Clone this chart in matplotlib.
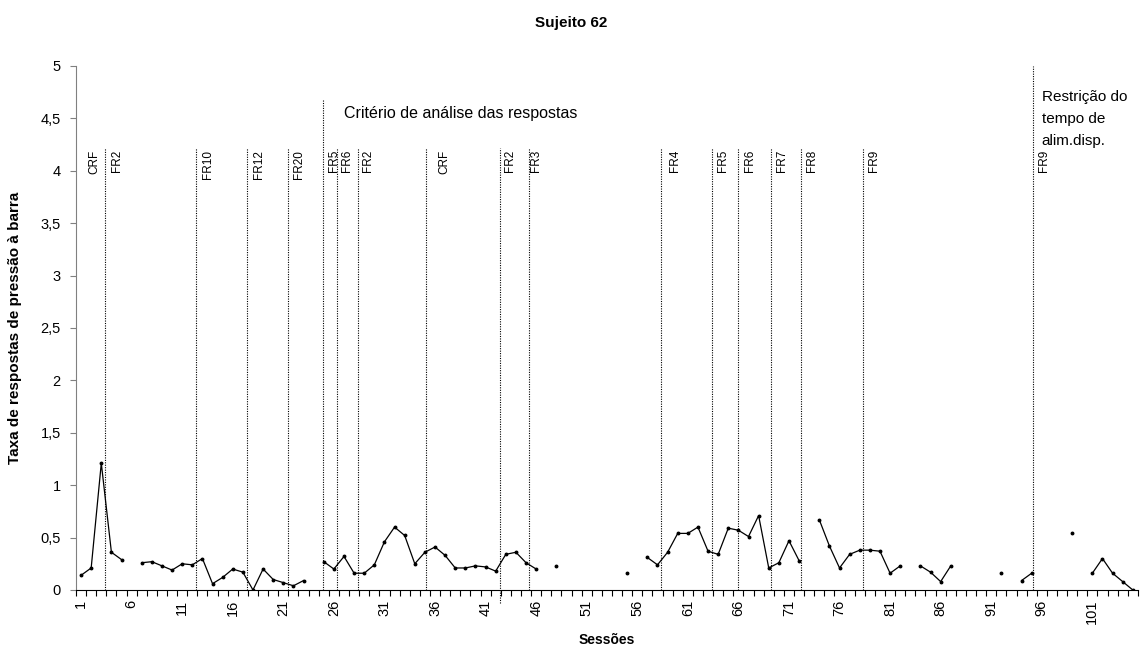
"""Sujeito 62 - taxa de respostas de pressão à barra por sessão."""

import numpy as np
import matplotlib
matplotlib.use("Agg")
import matplotlib.pyplot as plt

plt.rcParams["font.family"] = ["Liberation Sans", "DejaVu Sans"]

nan = np.nan

# response rate per session (sessions 1..105), gaps = no data
sessions = list(range(1, 106))
rates = [
    0.14, 0.21, 1.21, 0.36, 0.29, nan, 0.26, 0.27, 0.23, 0.19,   # 1-10
    0.25, 0.24, 0.30, 0.06, 0.12, 0.20, 0.17, 0.00, 0.20, 0.10,  # 11-20
    0.07, 0.04, 0.09, nan, 0.27, 0.20, 0.32, 0.16, 0.16, 0.24,   # 21-30
    0.46, 0.60, 0.52, 0.25, 0.36, 0.41, 0.33, 0.21, 0.21, 0.23,  # 31-40
    0.22, 0.18, 0.34, 0.36, 0.26, 0.20, nan, 0.23, nan, nan,     # 41-50
    nan, nan, nan, nan, 0.16, nan, 0.31, 0.24, 0.36, 0.54,       # 51-60
    0.54, 0.60, 0.37, 0.34, 0.59, 0.57, 0.51, 0.71, 0.21, 0.26,  # 61-70
    0.47, 0.28, nan, 0.67, 0.42, 0.21, 0.34, 0.38, 0.38, 0.37,   # 71-80
    0.16, 0.23, nan, 0.23, 0.17, 0.08, 0.23, nan, nan, nan,      # 81-90
    nan, 0.16, nan, 0.09, 0.16, nan, nan, nan, 0.54, nan,        # 91-100
    0.16, 0.30, 0.16, 0.08, 0.00,                                # 101-105
]

# phase change lines (session position, top of line)
phase_x = [3.36, 12.34, 17.42, 21.49, 24.92, 26.26, 28.37, 35.12, 42.45,
           45.25, 58.3, 63.4, 66.0, 69.2, 72.2, 78.3, 95.1]
phase_top = [4.22, 4.22, 4.22, 4.22, 4.68, 4.22, 4.22, 4.22, 4.22,
             4.22, 4.22, 4.22, 4.22, 4.22, 4.22, 4.22, 5.0]

# schedule labels (session position)
schedule_names = ["CRF", "FR2", "FR10", "FR12", "FR20", "FR5", "FR6", "FR2",
                  "CRF", "FR2", "FR3", "FR4", "FR5", "FR6", "FR7", "FR8",
                  "FR9", "FR9"]
schedule_x = [2.35, 4.52, 13.57, 18.63, 22.58, 26.04, 27.32, 29.4, 36.92,
              43.45, 46.02, 59.7, 64.5, 67.1, 70.3, 73.3, 79.4, 96.2]

xtick_labels = [str(s) for s in range(1, 102, 5)]
ytick_values = np.arange(0, 5.01, 0.5)


def main():
    fig = plt.figure(figsize=(11.43, 6.45), dpi=100)
    ax = fig.add_axes([0.0665, 0.0853, 0.929, 0.8124])

    # data series
    ax.plot(sessions, rates, color="black", linewidth=0.9,
            marker="o", markersize=1.8, zorder=3)

    # phase lines
    for x, top in zip(phase_x, phase_top):
        bottom = -0.12 if x == 42.45 else 0
        ax.plot([x, x], [bottom, top], color="black", linewidth=0.8,
                linestyle=(0, (1, 1.2)), clip_on=False, zorder=2)

    for name, x in zip(schedule_names, schedule_x):
        ax.text(x, 4.2, name, rotation=90, ha="center", va="top",
                fontsize=8.5)

    ax.text(27.0, 4.55, "Critério de análise das respostas",
            ha="left", va="center", fontsize=11.5)
    ax.text(96.0, 4.77, "Restrição do\ntempo de\nalim.disp.",
            ha="left", va="top", fontsize=11, linespacing=1.72)

    # axes
    ax.set_xlim(0.5, 105.5)
    ax.set_ylim(0, 5)
    ax.set_xticks(range(1, 102, 5))
    ax.set_xticklabels(xtick_labels, rotation=90, fontsize=10.5)
    ax.set_xticks(np.arange(0.5, 106, 1), minor=True)
    ax.tick_params(axis="x", which="major", length=0, pad=7)
    ax.tick_params(axis="x", which="minor", length=4, width=0.8,
                   direction="out")
    ax.set_yticks(ytick_values)
    ax.set_yticklabels([f"{v:g}".replace(".", ",") for v in ytick_values],
                       fontsize=10.5)
    ax.tick_params(axis="y", length=4, width=0.8, pad=7, color="#808080")

    for side in ("top", "right"):
        ax.spines[side].set_visible(False)
    ax.spines["left"].set_color("#808080")
    ax.spines["bottom"].set_color("black")

    ax.set_xlabel("Sessões", fontsize=10, fontweight="bold", labelpad=6)
    ax.set_ylabel("Taxa de respostas de pressão à barra", fontsize=11,
                  fontweight="bold", labelpad=13)
    fig.text(0.5, 0.965, "Sujeito 62", ha="center", va="center",
             fontsize=11, fontweight="bold")

    fig.savefig("out.png", dpi=100)
    plt.close(fig)


if __name__ == "__main__":
    main()
